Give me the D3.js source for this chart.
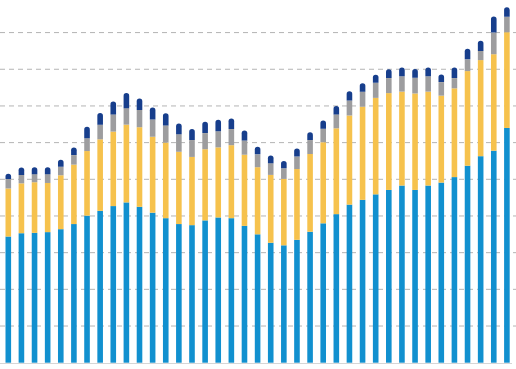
<!DOCTYPE html>
<html><head><meta charset="utf-8">
<script src="https://cdn.jsdelivr.net/npm/d3@7/dist/d3.min.js"></script>
<style>html,body{margin:0;padding:0;background:#fff;overflow:hidden}svg{display:block}</style>
</head><body><svg id="chart" width="516" height="369"></svg>
<script>
const categories = ["1980","1981","1982","1983","1984","1985","1986","1987","1988","1989",
  "1990","1991","1992","1993","1994","1995","1996","1997","1998","1999",
  "2000","2001","2002","2003","2004","2005","2006","2007","2008","2009",
  "2010","2011","2012","2013","2014","2015","2016","2017","2018"];
const blueValues = [34.4,35.3,35.4,35.6,36.4,37.8,40.1,41.4,42.7,43.7,
  42.5,40.9,39.4,37.8,37.5,38.8,39.6,39.4,37.3,35.0,
  32.7,32.0,33.5,35.7,38.0,40.5,43.1,44.4,45.9,47.1,
  48.3,47.1,48.3,49.1,50.6,53.7,56.3,57.8,64.0];
const yellowValues = [13.1,13.6,13.8,13.4,14.7,16.2,17.6,19.5,20.3,21.2,
  21.7,20.7,20.6,19.7,18.6,19.4,19.1,19.9,19.4,18.3,
  18.5,18.1,19.3,21.2,22.1,23.4,24.3,25.4,26.3,26.4,
  25.6,26.3,25.6,23.7,24.2,25.8,26.2,26.3,26.1];
const grayValues = [2.6,2.3,2.2,2.4,2.3,2.6,3.5,4.0,4.7,4.5,
  4.7,4.7,4.7,4.8,4.6,4.4,4.4,4.4,3.9,3.5,
  3.2,2.9,3.4,3.8,3.7,3.8,4.1,4.1,4.1,4.1,
  4.2,4.3,4.2,3.7,2.8,3.2,2.5,5.9,4.2];
const navyValues = [1.4,2.0,1.9,1.9,1.9,2.1,3.1,3.2,3.5,4.1,
  3.1,3.3,3.3,2.9,3.0,3.1,3.1,2.9,2.7,2.1,
  2.1,2.0,2.2,2.1,2.2,2.3,2.5,2.3,2.2,2.4,
  2.4,2.4,2.4,2.1,2.9,2.9,2.8,4.4,2.6];
const gridTicks = [10,20,30,40,50,60,70,80,90];
const seriesKeys = ["blue","yellow","gray","navy"];
const seriesColors = ["#1190cf","#f6c24d","#9d9d9f","#173e8c"];

const W = 516, H = 369;
const barW = 5.6, r = barW / 2;
const svg = d3.select("#chart");

const rows = categories.map((c, i) => ({
  cat: c, blue: blueValues[i], yellow: yellowValues[i], gray: grayValues[i], navy: navyValues[i]
}));

const x = d3.scalePoint().domain(categories).range([8.3, 506.9]);
const y = d3.scaleLinear().domain([0, 100]).range([362.7, -4.1]);
const color = d3.scaleOrdinal().domain(seriesKeys).range(seriesColors);

// gridlines
svg.append("g").selectAll("line").data(gridTicks).join("line")
  .attr("x1", 0).attr("x2", W)
  .attr("y1", d => y(d)).attr("y2", d => y(d))
  .attr("stroke", "#b4b4b4").attr("stroke-width", 1)
  .attr("stroke-dasharray", "5,4");

// baseline
svg.append("line")
  .attr("x1", 0).attr("x2", 512)
  .attr("y1", y(0) + 0.8).attr("y2", y(0) + 0.8)
  .attr("stroke", "#d6d6d6").attr("stroke-width", 1);

const stacked = d3.stack().keys(seriesKeys)(rows);

const groups = svg.append("g").selectAll("g").data(stacked).join("g")
  .attr("fill", d => color(d.key));

groups.each(function(s) {
  const g = d3.select(this);
  if (s.key === "navy") {
    g.selectAll("path").data(s).join("path")
      .attr("d", d => {
        const cx = x(d.data.cat);
        const x0 = cx - r, x1 = cx + r;
        const yTop = y(d[1]), yBot = y(d[0]);
        const p = d3.path();
        p.moveTo(x0, yBot);
        p.lineTo(x0, yTop + r);
        p.arc(cx, yTop + r, r, Math.PI, 0);
        p.lineTo(x1, yBot);
        p.closePath();
        return p.toString();
      });
  } else {
    g.selectAll("rect").data(s).join("rect")
      .attr("x", d => x(d.data.cat) - r)
      .attr("width", barW)
      .attr("y", d => y(d[1]))
      .attr("height", d => y(d[0]) - y(d[1]));
  }
});
</script>
</body></html>
